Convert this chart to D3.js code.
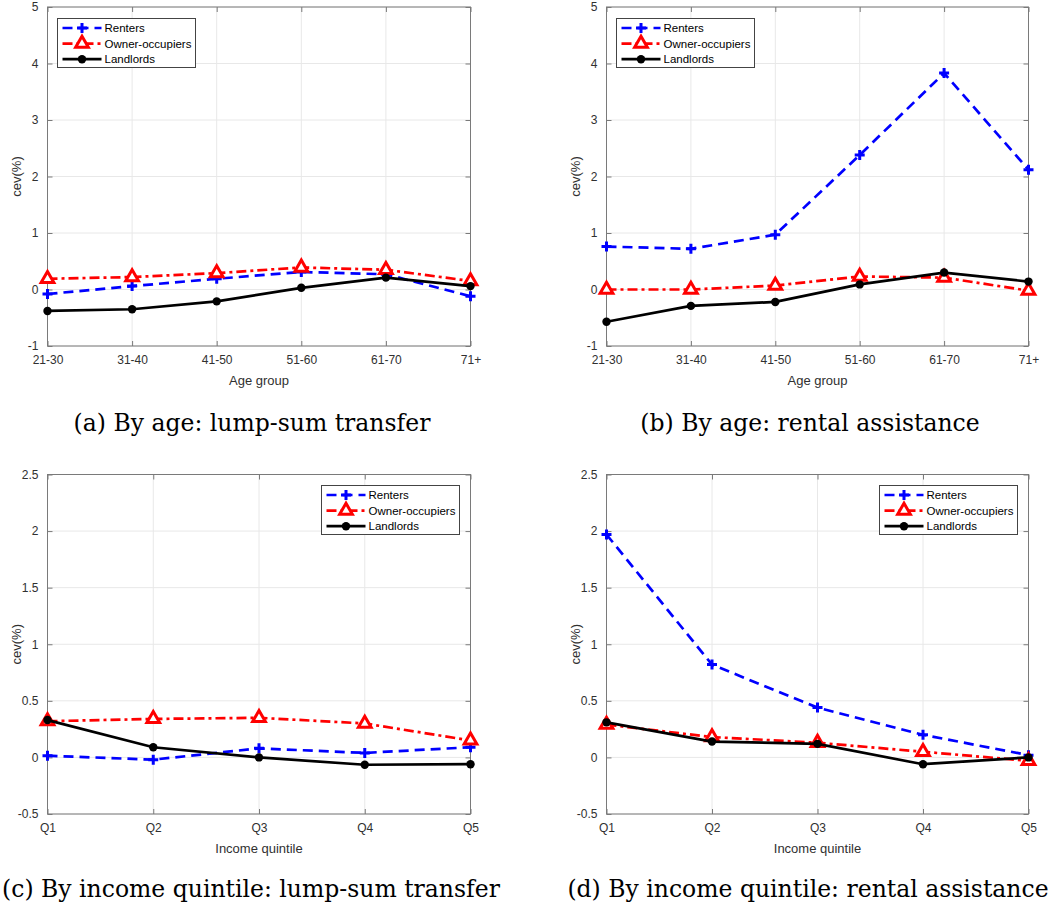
<!DOCTYPE html>
<html>
<head>
<meta charset="utf-8">
<script src="https://cdn.jsdelivr.net/npm/d3@7"></script>
<style>
  body { margin: 0; background: #fff; }
  text { font-family: "Liberation Sans", Arial, sans-serif; }
</style>
</head>
<body>
<div id="chart"></div>
<script>
// categories
const ageGroups = ["21-30", "31-40", "41-50", "51-60", "61-70", "71+"];
const quintiles = ["Q1", "Q2", "Q3", "Q4", "Q5"];
const seriesNames = ["Renters", "Owner-occupiers", "Landlords"];

// (a) by age, lump-sum
const ageLumpRenters = [-0.08, 0.06, 0.19, 0.31, 0.27, -0.12];
const ageLumpOwners = [0.19, 0.22, 0.29, 0.39, 0.35, 0.15];
const ageLumpLandlords = [-0.38, -0.35, -0.21, 0.03, 0.21, 0.06];

// (b) by age, rental assistance
const ageRentRenters = [0.76, 0.72, 0.97, 2.38, 3.83, 2.12];
const ageRentOwners = [0.0, 0.0, 0.07, 0.23, 0.21, -0.02];
const ageRentLandlords = [-0.57, -0.29, -0.22, 0.09, 0.30, 0.14];

// (c) by income, lump-sum
const incLumpRenters = [0.015, -0.02, 0.08, 0.04, 0.09];
const incLumpOwners = [0.32, 0.34, 0.35, 0.30, 0.15];
const incLumpLandlords = [0.33, 0.09, 0.0, -0.065, -0.06];

// (d) by income, rental assistance
const incRentRenters = [1.97, 0.82, 0.44, 0.20, 0.02];
const incRentOwners = [0.29, 0.18, 0.13, 0.05, -0.03];
const incRentLandlords = [0.31, 0.14, 0.12, -0.06, 0.0];

// tick labels
const ageTicksY = [-1, 0, 1, 2, 3, 4, 5];
const incTicksY = [-0.5, 0, 0.5, 1, 1.5, 2, 2.5];

const W = 1052, H = 911;
const svg = d3.select('#chart').append('svg')
  .attr('width', W)
  .attr('height', H);

const styles = [
  {color: '#0000ff', dash: '10,6', marker: 'plus'},
  {color: '#ff0000', dash: '10,4,3,4', marker: 'tri'},
  {color: '#000000', dash: null, marker: 'dot'}
];

function drawMarker(g, type, x, y, color) {
  if (type === 'plus') {
    g.append('path')
      .attr('d', `M${x - 5},${y}H${x + 5}M${x},${y - 5}V${y + 5}`)
      .style('stroke', color).style('stroke-width', 3).style('fill', 'none');
  } else if (type === 'tri') {
    g.append('path')
      .attr('d', d3.symbol().type(d3.symbolTriangle).size(70)())
      .attr('transform', `translate(${x},${y})`)
      .style('stroke', color).style('stroke-width', 3).style('fill', '#fff');
  } else {
    g.append('circle')
      .attr('cx', x).attr('cy', y).attr('r', 4.2)
      .style('fill', color);
  }
}

function drawPanel(p) {
  const g = svg.append('g');
  const x = d3.scalePoint().domain(p.cats).range([p.left, p.right]);
  const y = d3.scaleLinear().domain(p.yDomain).range([p.bottom, p.top]);

  // grid
  g.selectAll('.vgrid').data(p.cats).enter().append('line')
    .attr('x1', d => x(d)).attr('x2', d => x(d))
    .attr('y1', p.top).attr('y2', p.bottom)
    .style('stroke', '#e8e8e8').style('stroke-width', 1);
  g.selectAll('.hgrid').data(p.yTicks).enter().append('line')
    .attr('x1', p.left).attr('x2', p.right)
    .attr('y1', d => y(d)).attr('y2', d => y(d))
    .style('stroke', '#e8e8e8').style('stroke-width', 1);

  // box
  g.append('rect')
    .attr('x', p.left).attr('y', p.top)
    .attr('width', p.right - p.left).attr('height', p.bottom - p.top)
    .style('fill', 'none').style('stroke', '#7a7a7a').style('stroke-width', 1);

  // axes
  const fmt = d => String(d);
  const axL = g.append('g').attr('transform', `translate(${p.left},0)`)
    .call(d3.axisLeft(y).tickValues(p.yTicks).tickFormat(fmt).tickSizeInner(-5).tickSizeOuter(0).tickPadding(9));
  const axR = g.append('g').attr('transform', `translate(${p.right},0)`)
    .call(d3.axisRight(y).tickValues(p.yTicks).tickFormat('').tickSizeInner(-5).tickSizeOuter(0));
  const axB = g.append('g').attr('transform', `translate(0,${p.bottom})`)
    .call(d3.axisBottom(x).tickSizeInner(-5).tickSizeOuter(0).tickPadding(9));
  const axT = g.append('g').attr('transform', `translate(0,${p.top})`)
    .call(d3.axisTop(x).tickFormat('').tickSizeInner(-5).tickSizeOuter(0));
  [axL, axR, axB, axT].forEach(a => {
    a.select('.domain').remove();
    a.selectAll('.tick line').style('stroke', '#7a7a7a');
    a.selectAll('text').style('font-size', '12px').style('fill', '#303030')
      .style('font-family', '"Liberation Sans", Arial, sans-serif');
  });

  // axis labels
  g.append('text')
    .attr('x', (p.left + p.right) / 2).attr('y', p.bottom + 39)
    .attr('text-anchor', 'middle')
    .style('font-size', '13px').style('fill', '#303030')
    .text(p.xLabel);
  g.append('text')
    .attr('transform', `translate(${p.left - 27},${(p.top + p.bottom) / 2}) rotate(-90)`)
    .attr('text-anchor', 'middle')
    .style('font-size', '13px').style('fill', '#303030')
    .text('cev(%)');

  // lines
  const line = d3.line().x((d, i) => x(p.cats[i])).y(d => y(d));
  p.series.forEach((vals, k) => {
    const s = styles[k];
    g.append('path')
      .datum(vals)
      .attr('d', line)
      .style('fill', 'none')
      .style('stroke', s.color)
      .style('stroke-width', 2.7)
      .style('stroke-dasharray', s.dash);
    vals.forEach((v, i) => drawMarker(g, s.marker, x(p.cats[i]), y(v), s.color));
  });

  // legend
  const lg = g.append('g').attr('transform', `translate(${p.legX},${p.legY})`);
  lg.append('rect')
    .attr('width', 138).attr('height', 49)
    .style('fill', '#fff').style('stroke', '#444').style('stroke-width', 1);
  seriesNames.forEach((name, k) => {
    const s = styles[k];
    const yy = 9.5 + k * 15.6;
    lg.append('line')
      .attr('x1', 5).attr('x2', 44).attr('y1', yy).attr('y2', yy)
      .style('stroke', s.color).style('stroke-width', 2.7)
      .style('stroke-dasharray', s.dash);
    drawMarker(lg, s.marker, 24.5, yy, s.color);
    lg.append('text')
      .attr('x', 47).attr('y', yy).attr('dy', '0.35em')
      .style('font-size', '11.5px').style('fill', '#000')
      .text(name);
  });

  // caption
  svg.append('text')
    .attr('x', p.capX).attr('y', p.capY)
    .attr('text-anchor', 'middle')
    .style('font-family', '"DejaVu Serif", serif')
    .style('font-size', '23.5px').style('fill', '#000')
    .text(p.caption);
}

const panels = [
  {cats: ageGroups, yDomain: [-1, 5], yTicks: ageTicksY, left: 47.5, right: 470.5, top: 7, bottom: 346,
   series: [ageLumpRenters, ageLumpOwners, ageLumpLandlords], xLabel: 'Age group',
   legX: 57.5, legY: 18.5, caption: '(a) By age: lump-sum transfer', capX: 252, capY: 431},
  {cats: ageGroups, yDomain: [-1, 5], yTicks: ageTicksY, left: 606.5, right: 1028.5, top: 7, bottom: 346,
   series: [ageRentRenters, ageRentOwners, ageRentLandlords], xLabel: 'Age group',
   legX: 616.5, legY: 18.5, caption: '(b) By age: rental assistance', capX: 810, capY: 431},
  {cats: quintiles, yDomain: [-0.5, 2.5], yTicks: incTicksY, left: 47.5, right: 470.5, top: 474.5, bottom: 814,
   series: [incLumpRenters, incLumpOwners, incLumpLandlords], xLabel: 'Income quintile',
   legX: 321.5, legY: 485.5, caption: '(c) By income quintile: lump-sum transfer', capX: 251, capY: 897},
  {cats: quintiles, yDomain: [-0.5, 2.5], yTicks: incTicksY, left: 606.5, right: 1028.5, top: 474.5, bottom: 814,
   series: [incRentRenters, incRentOwners, incRentLandlords], xLabel: 'Income quintile',
   legX: 879.5, legY: 485.5, caption: '(d) By income quintile: rental assistance', capX: 808, capY: 897}
];

panels.forEach(drawPanel);
</script>
</body>
</html>
